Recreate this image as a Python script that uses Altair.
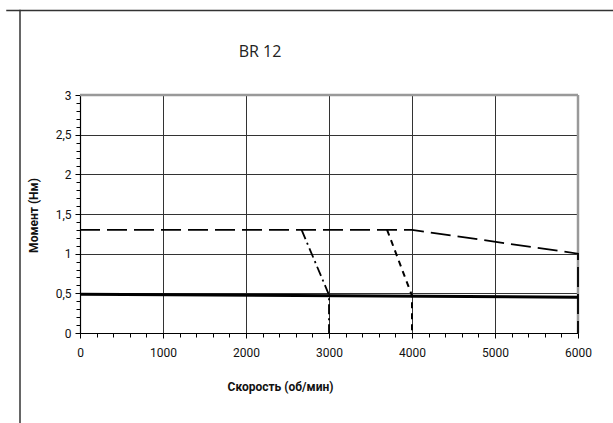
import altair as alt
import pandas as pd

# ---- data ----
solid_x = [0, 6000]
solid_y = [0.49, 0.45]

longdash_x = [0, 4000, 6000, 6000]
longdash_y = [1.3, 1.3, 1.0, 0.0]

dashdot_x = [2670, 3000, 3000]
dashdot_y = [1.3, 0.48, 0.0]

shortdash_x = [3700, 4000, 4000]
shortdash_y = [1.3, 0.47, 0.0]

x_ticks = list(range(0, 6001, 200))
y_ticks = [round(i * 0.1, 1) for i in range(31)]

title_text = "BR 12"
x_title = "Скорость (об/мин)"
y_title = "Момент (Нм)"

W, H = 498, 238
FONT = "Roboto"


def frame(xs, ys):
    return pd.DataFrame({"x": xs, "y": ys, "o": list(range(len(xs)))})


x_major = "datum.value % 1000 === 0"
y_major = "abs(datum.value*2 - round(datum.value*2)) < 1e-6"

x_scale = alt.Scale(domain=[0, 6000], nice=False, zero=False)
y_scale = alt.Scale(domain=[0, 3], nice=False, zero=False)

x_axis = alt.Axis(
    values=x_ticks, tickCount=200,
    title=x_title,
    titleFont=FONT, titleFontSize=12, titleFontWeight="bold", titleColor="#111",
    titleX=200, titleY=57, titleAlign="center", titleBaseline="alphabetic",
    labelFont=FONT, labelFontSize=12, labelColor="#111",
    labelExpr="datum.value % 1000 === 0 ? format(datum.value, 'd') : ''",
    labelOverlap=False, labelBound=False, labelFlush=False,
    labelPadding=9,
    domainColor="#000", domainWidth=1.2,
    tickColor="#000", tickWidth=1,
    tickSize={"condition": {"test": x_major, "value": 5}, "value": 4},
    grid=True, gridColor="#333", gridWidth=1,
    gridOpacity={"condition": {"test": x_major, "value": 1}, "value": 0},
)

y_axis = alt.Axis(
    values=y_ticks, tickCount=200,
    title=y_title,
    titleFont=FONT, titleFontSize=12, titleFontWeight="bold", titleColor="#111",
    titleX=-40, titleY=120, titleAlign="center", titleAngle=-90,
    labelFont=FONT, labelFontSize=12, labelColor="#111",
    labelExpr=y_major + " ? replace(format(datum.value, '~g'), '.', ',') : ''",
    labelOverlap=False, labelBound=False, labelFlush=False,
    labelPadding=4,
    domainColor="#000", domainWidth=1.2,
    tickColor="#000", tickWidth=1,
    tickSize={"condition": {"test": y_major, "value": 5}, "value": 4},
    grid=True, gridColor="#333", gridWidth=1,
    gridOpacity={"condition": {"test": y_major, "value": 1}, "value": 0},
)


def line(df, dash, width):
    props = dict(color="#000", strokeWidth=width, clip=False)
    if dash:
        props["strokeDash"] = dash
    return alt.Chart(df).mark_line(**props).encode(
        x=alt.X("x:Q", scale=x_scale, axis=x_axis),
        y=alt.Y("y:Q", scale=y_scale, axis=y_axis),
        order="o:Q",
    )


one = pd.DataFrame({"a": [0]})

top_border = alt.Chart(one).mark_rule(color="#999", strokeWidth=2.5).encode(
    y=alt.datum(3, scale=y_scale), x=alt.datum(0, scale=x_scale), x2=alt.datum(6000)
)
right_border = alt.Chart(one).mark_rule(color="#999", strokeWidth=2.5).encode(
    x=alt.datum(6000, scale=x_scale), y=alt.datum(0, scale=y_scale), y2=alt.datum(3)
)

# outer chart frame: top edge only (diagnostic: left edge moved)
frame_top = alt.Chart(one).mark_rect(color="#333", strokeWidth=0, clip=False).encode(
    x=alt.value(-73.75), x2=alt.value(533), y=alt.value(-85.25), y2=alt.value(-83.75)
)
frame_left = alt.Chart(one).mark_rect(color="#333", strokeWidth=0, clip=False).encode(
    x=alt.value(-60.75), x2=alt.value(-59.25), y=alt.value(-85.25), y2=alt.value(328)
)

title = alt.Chart(pd.DataFrame({"t": [title_text]})).mark_text(
    font="Open Sans", fontSize=16, color="#222", align="center", baseline="middle"
).encode(text="t:N", x=alt.value(180), y=alt.value(-43))

chart = alt.layer(
    frame_top,
    frame_left,
    top_border,
    right_border,
    line(frame(solid_x, solid_y), None, 3),
    line(frame(longdash_x, longdash_y), [20, 7], 1.8),
    line(frame(dashdot_x, dashdot_y), [10, 4, 2, 4], 1.8),
    line(frame(shortdash_x, shortdash_y), [6, 5], 2),
    title,
).properties(
    width=W,
    height=H,
    autosize=alt.AutoSizeParams(type="none"),
    padding={"left": 80, "top": 95, "right": 35, "bottom": 90},
).configure_view(stroke=None)

chart.save("out.html", embed_options={"renderer": "svg", "actions": False})
